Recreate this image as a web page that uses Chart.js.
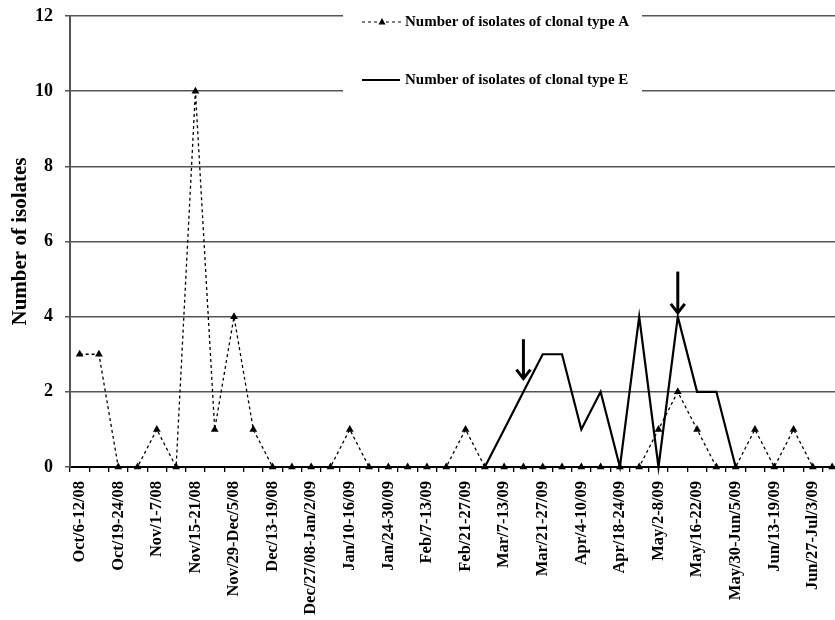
<!DOCTYPE html>
<html>
<head>
<meta charset="utf-8">
<script src="https://cdn.jsdelivr.net/npm/chart.js@4.4.1/dist/chart.umd.min.js"></script>
<style>
  html, body { margin: 0; padding: 0; background: #fff; overflow: hidden; }
  #wrap { position: relative; width: 861px; height: 620px; }
</style>
</head>
<body>
<div id="wrap"><canvas id="graficoIsolados"></canvas></div>
<script>
// Semanas (categorias do eixo x)
var weeks = [
  "Oct/6-12/08", "Oct/13-18/08", "Oct/19-24/08", "Oct/25-31/08",
  "Nov/1-7/08", "Nov/8-14/08", "Nov/15-21/08", "Nov/22-28/08",
  "Nov/29-Dec/5/08", "Dec/6-12/08", "Dec/13-19/08", "Dec/20-26/08",
  "Dec/27/08-Jan/2/09", "Jan/3-9/09", "Jan/10-16/09", "Jan/17-23/09",
  "Jan/24-30/09", "Jan/31-Feb/6/09", "Feb/7-13/09", "Feb/14-20/09",
  "Feb/21-27/09", "Feb/28-Mar/6/09", "Mar/7-13/09", "Mar/14-20/09",
  "Mar/21-27/09", "Mar/28-Apr/3/09", "Apr/4-10/09", "Apr/11-17/09",
  "Apr/18-24/09", "Apr/25-May/1/09", "May/2-8/09", "May/9-15/09",
  "May/16-22/09", "May/23-29/09", "May/30-Jun/5/09", "Jun/6-12/09",
  "Jun/13-19/09", "Jun/20-26/09", "Jun/27-Jul/3/09", "Jul/4-10/09"
];

var typeA = [3, 3, 0, 0, 1, 0, 10, 1, 4, 1,
             0, 0, 0, 0, 1, 0, 0, 0, 0, 0,
             1, 0, 0, 0, 0, 0, 0, 0, 0, 0,
             1, 2, 1, 0, 0, 1, 0, 1, 0, 0];

var typeE = [0, 0, 0, 0, 0, 0, 0, 0, 0, 0,
             0, 0, 0, 0, 0, 0, 0, 0, 0, 0,
             0, 0, 1, 2, 3, 3, 1, 2, 0, 4,
             0, 4, 2, 2, 0, 0, 0, 0, 0, 0];

var yTicks = [0, 2, 4, 6, 8, 10, 12];

// Setas (indice da semana, valor do topo, valor da ponta)
var arrowWeek = [23, 31];
var arrowFrom = [3.4, 5.2];
var arrowTo = [2.35, 4.1];

var serif = "'Liberation Serif', 'Times New Roman', serif";

// Legenda desenhada dentro da area do grafico
var insideLegend = {
  id: 'insideLegend',
  afterDraw: function (chart) {
    var ctx = chart.ctx;
    var area = chart.chartArea;
    var x0 = area.left + 273;
    var x1 = area.left + 572;
    ctx.save();
    ctx.fillStyle = '#fff';
    ctx.fillRect(x0, area.top - 6, x1 - x0, 88);

    var sx = area.left + 292, ex = area.left + 332, tx = area.left + 335;
    var y1 = area.top + 6, y2 = area.top + 64;

    // item A
    ctx.strokeStyle = '#000';
    ctx.lineWidth = 1.2;
    ctx.setLineDash([3, 3]);
    ctx.beginPath(); ctx.moveTo(sx, y1); ctx.lineTo(ex, y1); ctx.stroke();
    ctx.setLineDash([]);
    var mx = (sx + ex) / 2;
    ctx.fillStyle = '#000';
    ctx.beginPath();
    ctx.moveTo(mx, y1 - 4); ctx.lineTo(mx + 3.5, y1 + 2.5); ctx.lineTo(mx - 3.5, y1 + 2.5);
    ctx.closePath(); ctx.fill();

    // item E
    ctx.lineWidth = 2;
    ctx.beginPath(); ctx.moveTo(sx, y2); ctx.lineTo(ex - 2, y2); ctx.stroke();

    ctx.font = 'bold 15px ' + serif;
    ctx.textBaseline = 'middle';
    ctx.textAlign = 'left';
    ctx.fillText(chart.data.datasets[0].label, tx, y1);
    ctx.fillText(chart.data.datasets[1].label, tx, y2);
    ctx.restore();
  }
};

// Setas indicando os picos
var arrowsPlugin = {
  id: 'arrows',
  afterDatasetsDraw: function (chart) {
    var ctx = chart.ctx;
    var xs = chart.scales.x, ys = chart.scales.y;
    ctx.save();
    ctx.strokeStyle = '#000';
    ctx.lineWidth = 3;
    ctx.lineCap = 'butt';
    arrowWeek.forEach(function (w, i) {
      var x = xs.getPixelForValue(w);
      var yTop = ys.getPixelForValue(arrowFrom[i]);
      var yTip = ys.getPixelForValue(arrowTo[i]);
      ctx.beginPath();
      ctx.moveTo(x, yTop); ctx.lineTo(x, yTip - 1);
      ctx.stroke();
      ctx.beginPath();
      ctx.moveTo(x - 7, yTip - 9); ctx.lineTo(x, yTip); ctx.lineTo(x + 7, yTip - 9);
      ctx.stroke();
    });
    ctx.restore();
  }
};

var ctx = document.getElementById('graficoIsolados').getContext('2d');
new Chart(ctx, {
  type: 'line',
  data: {
    labels: weeks,
    datasets: [
      {
        label: 'Number of isolates of clonal type A',
        data: typeA,
        borderColor: '#000',
        backgroundColor: '#000',
        borderWidth: 1.3,
        borderDash: [3, 3],
        pointStyle: 'triangle',
        pointRadius: 4.5,
        pointBackgroundColor: '#000',
        pointBorderColor: '#000',
        pointBorderWidth: 0,
        fill: false,
        tension: 0,
        clip: false
      },
      {
        label: 'Number of isolates of clonal type E',
        data: typeE,
        borderColor: '#000',
        backgroundColor: '#000',
        borderWidth: 2.2,
        pointRadius: 0,
        fill: false,
        tension: 0,
        clip: false
      }
    ]
  },
  options: {
    responsive: true,
    maintainAspectRatio: false,
    animation: false,
    layout: { padding: { top: 0, right: 0, left: 0, bottom: 0 } },
    plugins: {
      legend: { display: false },
      tooltip: { enabled: false }
    },
    scales: {
      x: {
        offset: true,
        grid: { display: true, drawOnChartArea: false, drawTicks: true, tickLength: 5, color: '#000', lineWidth: 1.3, offset: true },
        border: { display: true, color: '#000', width: 2 },
        ticks: {
          autoSkip: false,
          minRotation: 90,
          maxRotation: 90,
          padding: 9,
          color: '#000',
          font: { family: serif, size: 16.5, weight: 'bold' },
          callback: function (value, index) { return index % 2 === 0 ? weeks[index] : ''; }
        },
        afterFit: function (scale) { scale.height = 153; }
      },
      y: {
        min: 0,
        max: 12,
        afterBuildTicks: function (scale) {
          scale.ticks = yTicks.map(function (v) { return { value: v }; });
        },
        grid: { color: '#555', lineWidth: 1.5, tickLength: 5 },
        border: { display: true, color: '#555', width: 2 },
        ticks: {
          padding: 12,
          color: '#000',
          font: { family: serif, size: 18, weight: 'bold', lineHeight: 1.2 }
        },
        title: {
          display: true,
          text: 'Number of isolates',
          color: '#000',
          padding: { top: 8, bottom: 0 },
          font: { family: serif, size: 21, weight: 'bold' }
        },
        afterFit: function (scale) {
          scale.width = 70;
          scale.paddingTop = 16;
        }
      }
    }
  },
  plugins: [insideLegend, arrowsPlugin]
});
</script>
</body>
</html>
